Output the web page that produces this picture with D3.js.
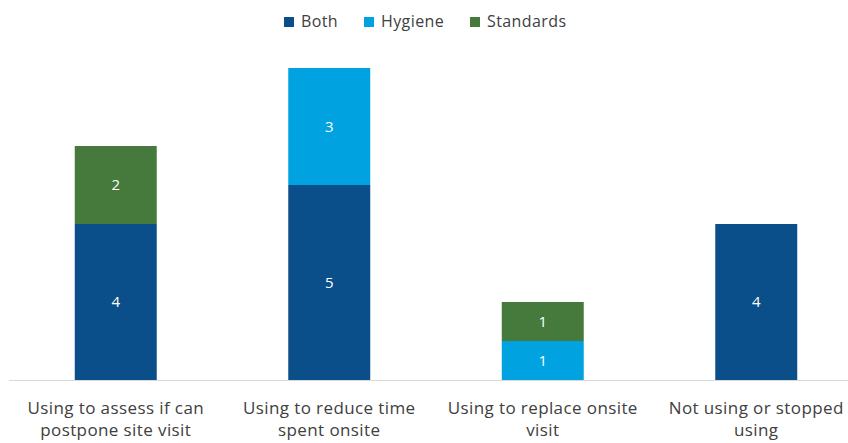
<!DOCTYPE html>
<html>
<head>
<meta charset="utf-8">
<script src="https://cdn.jsdelivr.net/npm/d3@7"></script>
<style>
  body { margin: 0; background: #fff; }
  text { font-family: "Open Sans", "Noto Sans", sans-serif; }
</style>
</head>
<body>
<div class="container"></div>
<script>
const width = 848;
const height = 443;

const categories = [
  ['Using to assess if can', 'postpone site visit'],
  ['Using to reduce time', 'spent onsite'],
  ['Using to replace onsite', 'visit'],
  ['Not using or stopped', 'using']
];
const seriesNames = ['Both', 'Hygiene', 'Standards'];
const both = [4, 5, 0, 4];
const hygiene = [0, 3, 1, 0];
const standards = [2, 0, 1, 0];
const colors = ['#0b4f8a', '#00a3e0', '#467a3c'];

const rows = categories.map((c, i) => ({
  key: i, Both: both[i], Hygiene: hygiene[i], Standards: standards[i]
}));

const svg = d3.select('.container')
  .append('svg')
  .attr('width', width)
  .attr('height', height);

const x = d3.scaleBand()
  .domain(rows.map(d => d.key))
  .range([9, 863])
  .paddingInner(0.616)
  .paddingOuter(0.308);

const y = d3.scaleLinear()
  .domain([0, 8])
  .range([380, 68]);

const stack = d3.stack().keys(seriesNames);
const layers = stack(rows);

const color = d3.scaleOrdinal().domain(seriesNames).range(colors);

// barras
const layerG = svg.selectAll('.layer')
  .data(layers)
  .enter()
  .append('g')
  .attr('class', 'layer')
  .attr('fill', d => color(d.key));

layerG.selectAll('rect')
  .data(d => d.filter(p => p[1] > p[0]))
  .enter()
  .append('rect')
  .attr('x', d => x(d.data.key))
  .attr('y', d => y(d[1]))
  .attr('width', x.bandwidth())
  .attr('height', d => y(d[0]) - y(d[1]));

// rotulos
layerG.selectAll('text')
  .data(d => d.filter(p => p[1] > p[0]))
  .enter()
  .append('text')
  .attr('x', d => x(d.data.key) + x.bandwidth() / 2)
  .attr('y', d => (y(d[0]) + y(d[1])) / 2)
  .attr('dy', '0.35em')
  .attr('text-anchor', 'middle')
  .attr('fill', '#fff')
  .attr('font-size', '15px')
  .text(d => d[1] - d[0]);

// eixo
svg.append('line')
  .attr('x1', 9)
  .attr('x2', width)
  .attr('y1', 380.5)
  .attr('y2', 380.5)
  .attr('stroke', '#d9d9d9')
  .attr('stroke-width', 1);

// categorias
const catText = svg.selectAll('.cat')
  .data(rows)
  .enter()
  .append('text')
  .attr('class', 'cat')
  .attr('text-anchor', 'middle')
  .attr('fill', '#404040')
  .attr('font-size', '17px')
  .attr('letter-spacing', '0.4px')
  .attr('x', d => x(d.key) + x.bandwidth() / 2)
  .attr('y', 414);

catText.selectAll('tspan')
  .data(d => categories[d.key])
  .enter()
  .append('tspan')
  .attr('x', function () { return d3.select(this.parentNode).attr('x'); })
  .attr('dy', (d, i) => i === 0 ? 0 : 22)
  .text(d => d);

// legenda
const legendX = [284, 364, 470];
const legenda = svg.append('g').attr('class', 'legenda');
seriesNames.forEach((s, i) => {
  legenda.append('rect')
    .attr('x', legendX[i])
    .attr('y', 17)
    .attr('width', 10)
    .attr('height', 10)
    .attr('fill', colors[i]);
  legenda.append('text')
    .attr('x', legendX[i] + 17)
    .attr('y', 27)
    .attr('fill', '#404040')
    .attr('font-size', '16px')
    .attr('letter-spacing', '0.4px')
    .text(s);
});
</script>
</body>
</html>
